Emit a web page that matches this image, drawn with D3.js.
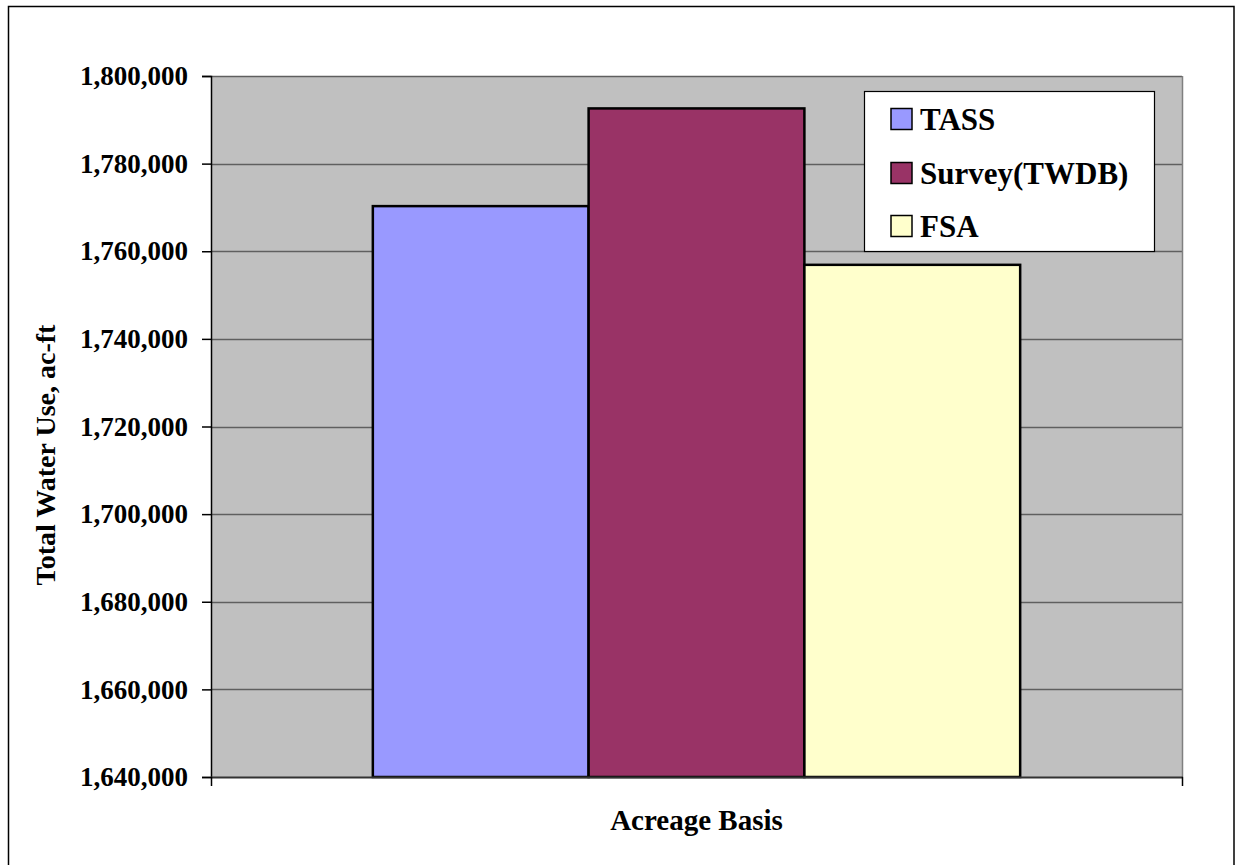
<!DOCTYPE html>
<html>
<head>
<meta charset="utf-8">
<script src="https://cdn.jsdelivr.net/npm/d3@7"></script>
<style>
  html, body { margin: 0; padding: 0; background: #fff; overflow: hidden; }
  svg { display: block; font-family: "Liberation Serif", "Times New Roman", serif; font-weight: bold; }
</style>
</head>
<body>
<svg id="chart" width="1235" height="865"></svg>
<script>
// Total water use by data source, acreage basis
const categories = ["Acreage Basis"];
const seriesNames = ["TASS", "Survey(TWDB)", "FSA"];
const seriesValues = [1770300, 1792600, 1756900];
const seriesColors = ["#9999FF", "#993366", "#FFFFCC"];
const yTicks = [1640000, 1660000, 1680000, 1700000, 1720000, 1740000, 1760000, 1780000, 1800000];

const svg = d3.select("#chart");
const W = 1235, H = 865;
const plot = { left: 211, top: 76, right: 1182, bottom: 777 };

// outer frame (runs past the bottom edge)
svg.append("rect")
  .attr("x", 8.5).attr("y", 6.5)
  .attr("width", W - 9.5).attr("height", H + 10)
  .attr("fill", "#fff").attr("stroke", "#000").attr("stroke-width", 1.5);

const y = d3.scaleLinear().domain([1640000, 1800000]).range([plot.bottom, plot.top]);
const x0 = d3.scaleBand().domain(categories).range([plot.left, plot.right]).paddingInner(0).paddingOuter(0);
// gap width 150% of a bar: group = 3 bars, gap = 1.5 bars
const groupW = x0.bandwidth() * 3 / 4.5;
const x1 = d3.scaleBand().domain(seriesNames).range([0, groupW]).padding(0);

// plot background
svg.append("rect")
  .attr("x", plot.left).attr("y", plot.top)
  .attr("width", plot.right - plot.left).attr("height", plot.bottom - plot.top)
  .attr("fill", "#C0C0C0");

// horizontal gridlines
svg.append("g").selectAll("line")
  .data(yTicks.slice(1))
  .join("line")
  .attr("x1", plot.left).attr("x2", plot.right)
  .attr("y1", d => Math.round(y(d)) + 0.5).attr("y2", d => Math.round(y(d)) + 0.5)
  .attr("stroke", "#5f5f5f").attr("stroke-width", 1.5);

// plot border (right side)
svg.append("line")
  .attr("x1", plot.right + 0.5).attr("x2", plot.right + 0.5)
  .attr("y1", plot.top).attr("y2", plot.bottom)
  .attr("stroke", "#808080").attr("stroke-width", 1.5);

// bars
const groups = svg.append("g").selectAll("g")
  .data(categories)
  .join("g")
  .attr("transform", d => `translate(${x0(d) + (x0.bandwidth() - groupW) / 2},0)`);

groups.selectAll("rect")
  .data(() => seriesNames.map((s, i) => ({ name: s, value: seriesValues[i], color: seriesColors[i] })))
  .join("rect")
  .attr("x", d => x1(d.name))
  .attr("y", d => y(d.value))
  .attr("width", x1.bandwidth())
  .attr("height", d => y(1640000) - y(d.value))
  .attr("fill", d => d.color)
  .attr("stroke", "#000").attr("stroke-width", 2.5);

// y axis
const yAxis = d3.axisLeft(y)
  .tickValues(yTicks)
  .tickFormat(d3.format(","))
  .tickSize(9)
  .tickPadding(14);
const gy = svg.append("g").attr("transform", `translate(${plot.left},0)`).call(yAxis);
gy.select(".domain").attr("stroke", "#000").attr("stroke-width", 1.5);
gy.selectAll(".tick line").attr("stroke", "#000").attr("stroke-width", 1.5);
gy.selectAll(".tick text")
  .attr("font-family", "Liberation Serif, Times New Roman, serif")
  .attr("font-weight", "bold").attr("font-size", 27).attr("fill", "#000");

// x axis (category boundaries)
const gx = svg.append("g");
gx.append("line")
  .attr("x1", plot.left).attr("x2", plot.right + 1)
  .attr("y1", plot.bottom + 0.5).attr("y2", plot.bottom + 0.5)
  .attr("stroke", "#333").attr("stroke-width", 2);
gx.selectAll("line.tk")
  .data([plot.left, plot.right])
  .join("line").attr("class", "tk")
  .attr("x1", d => d + 0.5).attr("x2", d => d + 0.5)
  .attr("y1", plot.bottom).attr("y2", plot.bottom + 9)
  .attr("stroke", "#000").attr("stroke-width", 1.5);

// category label
svg.append("text")
  .attr("x", x0(categories[0]) + x0.bandwidth() / 2)
  .attr("y", 830)
  .attr("text-anchor", "middle")
  .attr("font-size", 29)
  .text(categories[0]);

// y axis title
svg.append("text")
  .attr("transform", "translate(55,455) rotate(-90)")
  .attr("text-anchor", "middle")
  .attr("font-size", 28)
  .text("Total Water Use, ac-ft");

// legend
const legend = svg.append("g");
legend.append("rect")
  .attr("x", 864.5).attr("y", 91.5).attr("width", 290).attr("height", 160)
  .attr("fill", "#fff").attr("stroke", "#000").attr("stroke-width", 1.2);
const rowY = [119, 173, 226];
const items = legend.selectAll("g.item")
  .data(seriesNames)
  .join("g").attr("class", "item")
  .attr("transform", (d, i) => `translate(891,${rowY[i]})`);
items.append("rect")
  .attr("x", 0).attr("y", -10.5).attr("width", 21).attr("height", 21)
  .attr("fill", (d, i) => seriesColors[i])
  .attr("stroke", "#000").attr("stroke-width", 1.5);
items.append("text")
  .attr("x", 29).attr("y", 11)
  .attr("font-size", 31)
  .text(d => d);
</script>
</body>
</html>
